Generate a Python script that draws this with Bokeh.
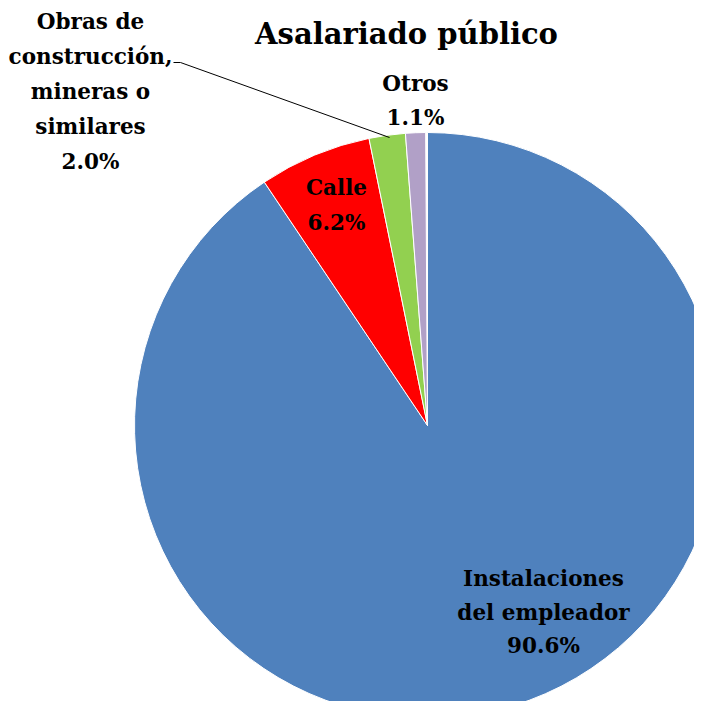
import math
from bokeh.plotting import figure
from bokeh.models import Range1d, ColumnDataSource
from bokeh.core.properties import value
from bokeh.embed import file_html
from bokeh.resources import INLINE

# ---- data ----
categories = ["Instalaciones\ndel empleador", "Calle", "Obras de\nconstrucción,\nmineras o\nsimilares", "Otros"]
shares = [90.6, 6.2, 2.0, 1.1]
colors = ["#4F81BD", "#FF0000", "#92D050", "#B1A0C7"]
title_text = "Asalariado público"

W, H = 694, 701
# data coords = image pixels (x), y flipped
def py(y):
    return 717 - y

p = figure(width=W, height=H, output_backend="svg", toolbar_location=None,
           x_range=Range1d(0, W), y_range=Range1d(717 - H, 717),
           min_border=0, outline_line_color=None)
p.axis.visible = False
p.grid.visible = False
p.background_fill_color = "white"

cx, cy, r = 427, py(425), 293
total = 100.0
starts, ends = [], []
acc = 0.0
for s in shares:
    starts.append(math.pi / 2 - acc / total * 2 * math.pi)
    acc += s
    ends.append(math.pi / 2 - acc / total * 2 * math.pi)
src = ColumnDataSource(dict(start=starts, end=ends, color=colors))
p.wedge(x=cx, y=cy, radius=r, start_angle="start", end_angle="end", direction="clock",
        fill_color="color", line_color="white", line_width=1, source=src)

font = value("DejaVu Serif")

# label anchors (pixel positions of first line centre) and line spacing
anchors = [(543, 578), (336, 187), (90, 21), (415, 83)]
lh = [33.5, 35, 35, 34]
tx, ty, tt = [], [], []
for cat, sh, (ax, ay), d in zip(categories, shares, anchors, lh):
    lines = cat.split("\n") + [f"{sh:.1f}%"]
    for i, ln in enumerate(lines):
        tx.append(ax)
        ty.append(py(ay + i * d))
        tt.append(ln)
p.text(x=tx, y=ty, text=tt, text_font=font, text_font_style="bold", text_font_size="21.5px",
       text_align="center", text_baseline="middle", text_color="black")

# leader line for small slice
p.line(x=[173, 180, 389], y=[py(62), py(62), py(137)], line_color="black", line_width=1)

p.text(x=[406], y=[py(33)], text=[title_text], text_font=font, text_font_style="bold",
       text_font_size="29px", text_align="center", text_baseline="middle", text_color="black")

open("out.html", "w").write(file_html(p, INLINE))
